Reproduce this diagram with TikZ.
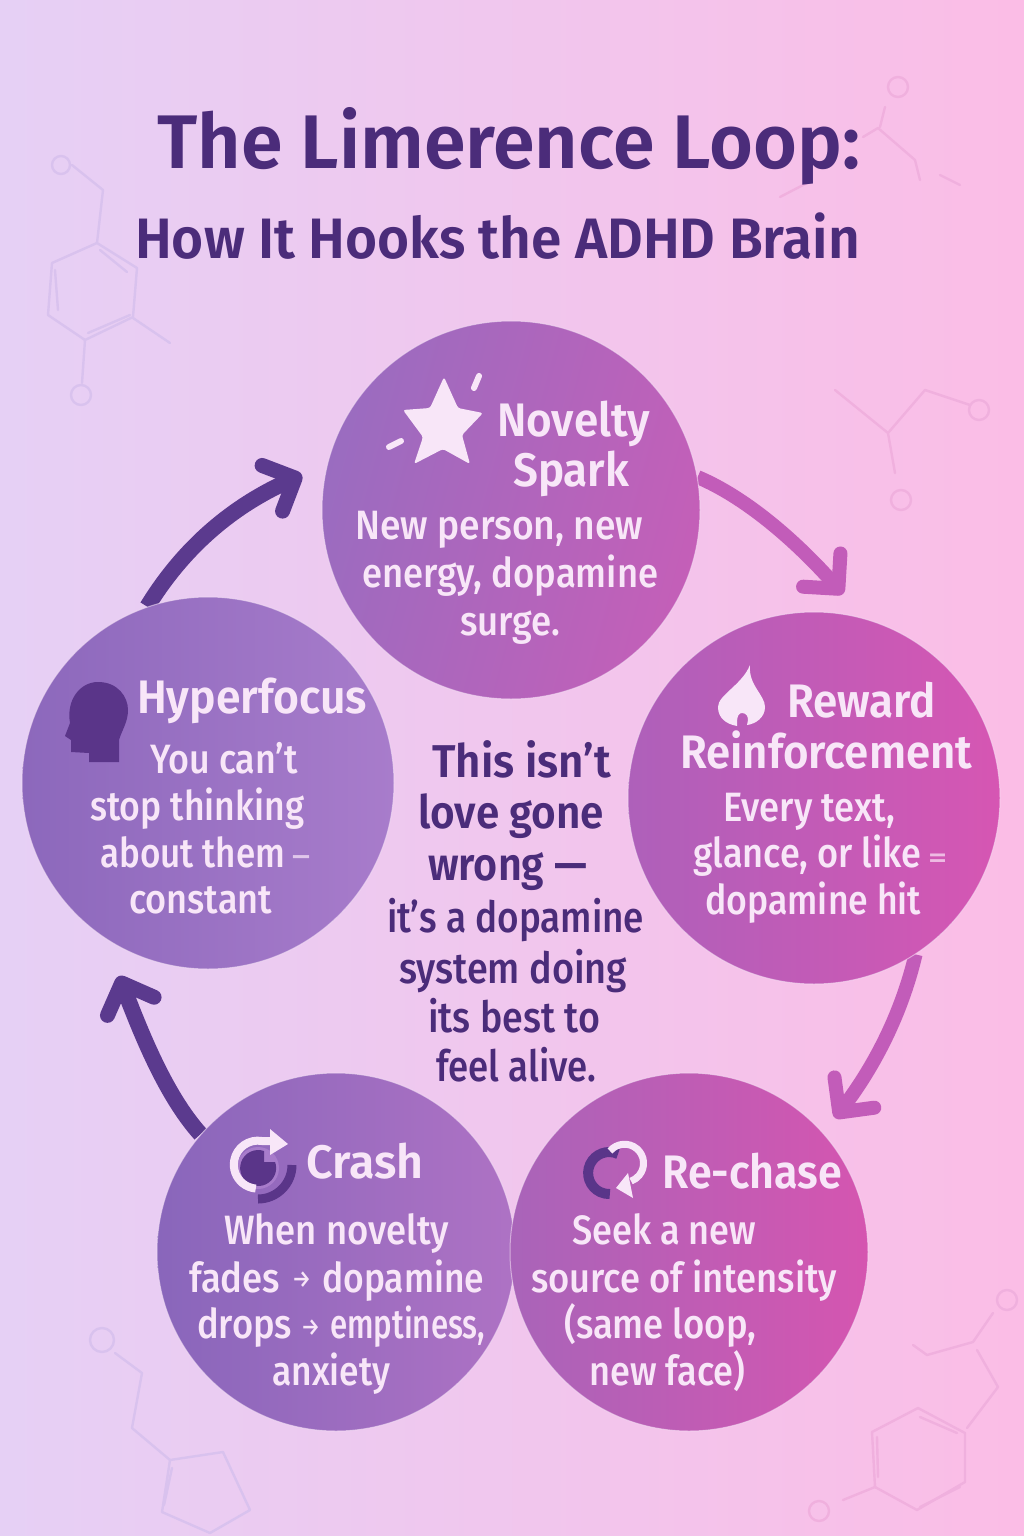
\documentclass[tikz,border=0pt]{standalone}
\usepackage{graphicx}
\usepackage{fontspec}
\setmainfont{Fira Sans Medium}
\newfontfamily\fsemi{Fira Sans SemiBold}
\usetikzlibrary{arrows.meta}
\pgfdeclarelayer{bg}
\pgfsetlayers{bg,main}
\definecolor{darkp}{HTML}{4B2C7A}
\definecolor{arrowd}{HTML}{5B3A8E}
\definecolor{arrowp}{HTML}{C25CB9}
\definecolor{ink}{HTML}{F8E6F8}
\definecolor{icond}{HTML}{5A3589}
\definecolor{molL}{HTML}{D9C2EE}
\definecolor{molR}{HTML}{F0B0DE}
\definecolor{bgL}{HTML}{E6D0F5}
\definecolor{bgR}{HTML}{FBBDE6}
\definecolor{nA}{HTML}{9A6CC0}
\definecolor{nB}{HTML}{C45FB8}
\definecolor{hA}{HTML}{8C68BC}
\definecolor{hB}{HTML}{A87CCB}
\definecolor{rA}{HTML}{AE60BA}
\definecolor{rB}{HTML}{D656B3}
\definecolor{cA}{HTML}{8966BB}
\definecolor{cB}{HTML}{AE72C4}
\definecolor{sA}{HTML}{A964B9}
\definecolor{sB}{HTML}{D555B0}
\newlength\fitw
\newcommand\fitline[7]{%
  \node[anchor=base west,inner sep=0pt,text=#6] (#1) at (#2,-#3) {#5\settowidth\fitw{#7}\pgfmathsetmacro\fitr{#4/\fitw}\scalebox{\fitr}[1]{#7}};}
\newcommand\ftitle{\fsemi\fontsize{76}{90}\selectfont}
\newcommand\fsub{\fsemi\fontsize{57}{70}\selectfont}
\newcommand\fhead{\fsemi\fontsize{47}{55}\selectfont}
\newcommand\fbod{\fontsize{41}{50}\selectfont}
\newcommand\fctb{\fsemi\fontsize{46}{52}\selectfont}
\newcommand\fctm{\fontsize{43}{50}\selectfont}
\newcommand\hdline[5]{\fitline{#1}{#2}{#3}{#4}{\fhead}{ink}{#5}}
\newcommand\bdline[5]{\fitline{#1}{#2}{#3}{#4}{\fbod}{ink}{#5}}
\tikzset{
  disc/.style={circle,inner sep=0pt,minimum size=#1,draw=ink,draw opacity=.55,line width=1pt},
  loopd/.style={draw=arrowd,line width=16pt,-{Straight Barb[round,length=25pt,width=50pt,line width=15pt]}},
  loopp/.style={draw=arrowp,line width=14pt,-{Straight Barb[round,length=25pt,width=50pt,line width=14pt]}},
  mol/.style={line width=2.4pt,line cap=round,line join=round},
}
\begin{document}
\begin{tikzpicture}[x=1pt,y=1pt]
\useasboundingbox (0,0) rectangle (1024,-1536);

% circles
\node[disc=378pt,left color=nA,right color=nB,shading angle=75] (novelty) at (511,-510) {};
\node[disc=372pt,left color=hA,right color=hB] (hyper) at (208,-783) {};
\node[disc=372pt,left color=rA,right color=rB] (reward) at (814,-798) {};
\node[disc=358pt,left color=cA,right color=cB] (crash) at (336,-1252) {};
\node[disc=358pt,left color=sA,right color=sB] (rechase) at (689,-1252) {};

\begin{pgfonlayer}{bg}
\shade[left color=bgL,right color=bgR] (0,0) rectangle (1024,-1536);
% watermark molecules, left
\begin{scope}[mol,draw=molL]
\draw (61,-165) circle (9);
\draw (72,-165) -- (103,-190) -- (97,-243) -- (137,-268) -- (133,-317) -- (85,-340) -- (48,-315) -- (52,-263) -- (97,-243);
\draw (55,-270) -- (58,-310) (100,-250) -- (127,-272) (88,-333) -- (130,-315);
\draw (133,-318) -- (170,-343) (85,-340) -- (82,-383);
\draw (81,-395) circle (10);
\draw (102,-1340) circle (12);
\draw (115,-1353) -- (142,-1373) -- (132,-1428) -- (170,-1460) -- (223,-1452) -- (250,-1510) -- (210,-1533) -- (162,-1512) -- (170,-1460);
\draw (172,-1468) -- (164,-1505);
\end{scope}
% watermark molecules, right
\begin{scope}[mol,draw=molR]
\draw (898,-87) circle (10);
\draw (885,-107) -- (880,-127) (878,-128) -- (863,-137) (878,-128) -- (915,-160) -- (920,-180) (940,-175) -- (960,-185) (780,-197) -- (807,-183);
\draw (835,-390) -- (888,-433) -- (925,-390) -- (970,-405) (888,-433) -- (895,-473);
\draw (979,-410) circle (10);
\draw (901,-500) circle (10);
\draw (1007,-1300) circle (10);
\draw (993,-1313) -- (973,-1342) -- (927,-1355) -- (913,-1345) (977,-1350) -- (998,-1387) -- (967,-1428);
\draw (965,-1433) -- (918,-1408) -- (872,-1432) -- (875,-1487) -- (917,-1510) -- (965,-1482) -- cycle;
\draw (920,-1417) -- (957,-1433) (877,-1437) -- (878,-1477) (920,-1507) -- (960,-1487);
\draw (875,-1487) -- (843,-1500);
\draw (819,-1511) circle (10);
\end{scope}
% loop arrows
\coordinate (tipA) at (843,-594);
\coordinate (tipB) at (835,-1118);
\coordinate (tipC) at (119,-976);
\coordinate (tipD) at (302,-475);
\draw[loopp] (novelty.10) .. controls (745,-497) and (795,-540) .. (tipA);
\draw[loopp] (reward.-57) .. controls (900,-1020) and (870,-1072) .. (tipB);
\draw[loopd] (crash.139) .. controls (165,-1095) and (140,-1030) .. (tipC);
\draw[loopd] (hyper.109) .. controls (185,-545) and (235,-505) .. (tipD);
\end{pgfonlayer}

% title
\fitline{title}{157}{168}{703}{\ftitle}{darkp}{The Limerence Loop:}
\fitline{subtitle}{135}{258}{725}{\fsub}{darkp}{How It Hooks the ADHD Brain}

% novelty
\fill[ink,rounded corners=2.5pt] (444,-377) -- (458,-408) -- (483,-413) -- (462,-435) -- (470,-464) -- (443,-449) -- (414,-464) -- (423,-437) -- (403,-410) -- (430,-408) -- cycle;
\draw[ink,line width=6pt,line cap=round] (479,-376) -- (474,-388) (401,-441) -- (389,-447);
\hdline{nv1}{497}{436}{153}{Novelty}
\hdline{nv2}{513}{486}{116}{Spark}
\bdline{nv3}{355}{539}{288}{New person, new}
\bdline{nv4}{362}{587}{296}{energy, dopamine}
\bdline{nv5}{460}{635}{100}{surge.}

% hyperfocus
\fill[icond] (119,-762) -- (89,-762) -- (89,-753) -- (71,-752) -- (71,-740) -- (65,-736) -- (70,-723) .. controls (66,-700) and (80,-682) .. (98,-682) .. controls (118,-682) and (128,-697) .. (128,-710) .. controls (128,-722) and (122,-730) .. (119,-740) -- cycle;
\hdline{hy1}{137}{713}{230}{Hyperfocus}
\bdline{hy2}{150}{773}{148}{You can’t}
\bdline{hy3}{90}{820}{214}{stop thinking}
\bdline{hy4}{100}{867}{185}{about them}
\fitline{hy4d}{292}{866}{18}{\fontsize{30}{34}\selectfont}{ink!70!hB}{–}
\bdline{hy5}{129}{913}{143}{constant}

% reward
\fill[ink] (750,-665) .. controls (742,-685) and (718,-695) .. (718,-707) .. controls (718,-718) and (726,-724) .. (737,-726) -- (737,-722) .. controls (737,-716) and (739,-713) .. (742,-713) .. controls (746,-713) and (748,-716) .. (748,-720) -- (747,-725) .. controls (755,-724) and (765,-718) .. (765,-707) .. controls (765,-695) and (748,-685) .. cycle;
\hdline{re1}{787}{717}{149}{Reward}
\hdline{re2}{680}{768}{292}{Reinforcement}
\bdline{re3}{723}{821}{172}{Every text,}
\bdline{re4}{693}{867}{228}{glance, or like}
\fitline{re4e}{928}{867}{19}{\fontsize{28}{34}\selectfont}{ink!70!rB}{=}
\bdline{re5}{705}{914}{216}{dopamine hit}

% crash
\draw[icond,line width=9pt] (292,-1165) arc (0:-90:34);
\fill[hB] (258,-1168) circle (21);
\fill[icond] (264,-1151) arc (71:379:18) -- (264,-1162) -- cycle;
\draw[ink,line width=8pt] (270,-1141) -- (262,-1141) arc (80:265:24);
\fill[ink,line join=round] (288,-1144) -- (270,-1129) -- (270,-1155) -- cycle;
\hdline{cr1}{306}{1178}{117}{Crash}
\bdline{cr2}{224}{1244}{225}{When novelty}
\bdline{cr3}{189}{1292}{91}{fades}
\fitline{cr3a}{292}{1287}{19}{\fontsize{24}{28}\selectfont}{ink}{→}
\bdline{cr3b}{322}{1292}{162}{dopamine}
\bdline{cr4}{197}{1338}{95}{drops}
\fitline{cr4a}{301}{1335}{19}{\fontsize{24}{28}\selectfont}{ink}{→}
\bdline{cr4b}{330}{1338}{155}{emptiness,}
\bdline{cr5}{272}{1385}{118}{anxiety}

% re-chase
\draw[icond,line width=10pt] (618,-1154) arc (65:272:21);
\draw[ink,line width=7pt] (610,-1151) arc (140:-70:19);
\fill[ink,line join=round] (616,-1188) -- (628,-1173) -- (633,-1198) -- cycle;
\hdline{rc1}{662}{1188}{180}{Re-chase}
\bdline{rc2}{572}{1244}{184}{Seek a new}
\bdline{rc3}{531}{1292}{306}{source of intensity}
\bdline{rc4}{564}{1338}{192}{(same loop,}
\bdline{rc5}{589}{1385}{156}{new face)}

% centre text
\fitline{ct1}{432}{777}{179}{\fctb}{darkp}{This isn’t}
\fitline{ct2}{418}{828}{186}{\fctb}{darkp}{love gone}
\fitline{ct3}{428}{880}{159}{\fctb}{darkp}{wrong —}
\fitline{ct4}{387}{932}{257}{\fctm}{darkp}{it’s a dopamine}
\fitline{ct5}{399}{983}{228}{\fctm}{darkp}{system doing}
\fitline{ct6}{428}{1032}{172}{\fctm}{darkp}{its best to}
\fitline{ct7}{436}{1081}{160}{\fctm}{darkp}{feel alive.}
\end{tikzpicture}
\end{document}
